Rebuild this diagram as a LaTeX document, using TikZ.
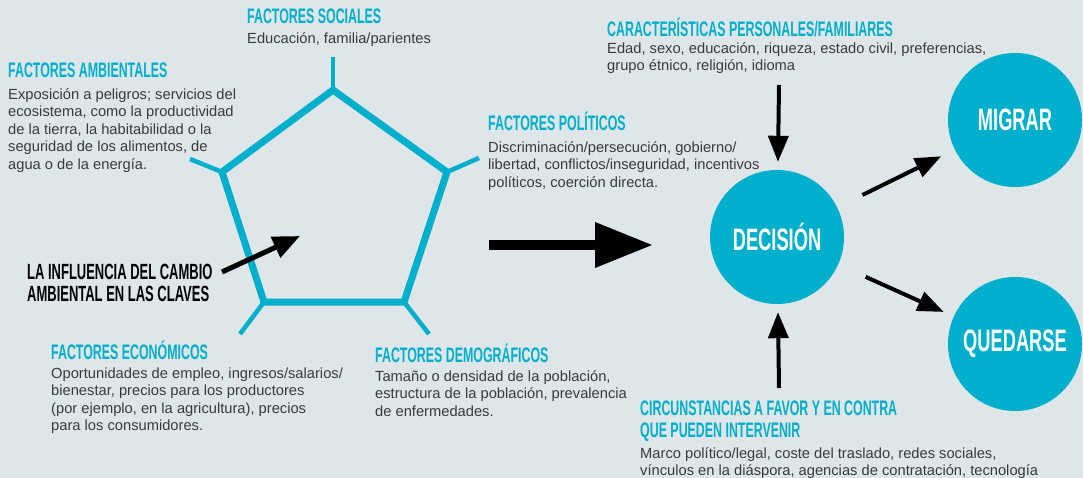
\documentclass[tikz,border=0pt]{standalone}
\usepackage{fontspec}
\setmainfont{Liberation Sans}
\newfontfamily\headfont{Liberation Sans}[UprightFont=* Bold,FakeStretch=0.59]
\usetikzlibrary{positioning,arrows.meta}
\definecolor{cian}{HTML}{00AFCB}
\definecolor{fondo}{HTML}{DFE6E9}
\definecolor{gris}{HTML}{3A3A3A}

\begin{document}
\begin{tikzpicture}[x=1pt,y=-1pt,node distance=20pt,
  titulo/.style={font=\headfont\fontsize{21}{21.5}\selectfont, text=cian, align=left, inner sep=0pt, anchor=base west},
  texto/.style={font=\fontsize{14.7}{17.5}\selectfont, text=gris, align=left, inner sep=0pt},
  circulo/.style={circle, fill=cian, minimum size=134pt, inner sep=0pt, text=white, font=\headfont\fontsize{31}{31}\selectfont},
  lado/.style={draw=cian, line width=7pt, line join=miter},
  rama/.style={draw=cian, line width=4.5pt},
  flecha/.style={draw=black, line width=4pt, -{Triangle[length=26pt,width=20pt]}},
]
\fill[fondo] (0,0) rectangle (1083,478);
\useasboundingbox (0,0) rectangle (1083,478);

% pentagono
\coordinate (p1) at (333,90);
\coordinate (p2) at (447,172);
\coordinate (p3) at (404,302);
\coordinate (p4) at (264,302);
\coordinate (p5) at (222,172);
\coordinate (r1) at (333,57);
\coordinate (r2) at (479,158);
\coordinate (r3) at (429,334);
\coordinate (r4) at (240,334);
\coordinate (r5) at (190,159);
\draw[rama] (p1) -- (r1);
\draw[rama] (p2) -- (r2);
\draw[rama] (p3) -- (r3);
\draw[rama] (p4) -- (r4);
\draw[rama] (p5) -- (r5);
\draw[lado] (p1) -- (p2) -- (p3) -- (p4) -- (p5) -- cycle;

% factores
\node[titulo] (soc) at (247,24) {FACTORES SOCIALES};
\node[texto, below=8.3pt of soc.base west, anchor=north west] (soc1) {Educación, familia/parientes};

\node[titulo] (amb) at (8,78) {FACTORES AMBIENTALES};
\node[texto, below=10.3pt of amb.base west, anchor=north west] (amb1) {Exposición a peligros; servicios del\\ ecosistema, como la productividad\\ de la tierra, la habitabilidad o la\\ seguridad de los alimentos, de\\ agua o de la energía.};

\node[titulo] (pol) at (488,131) {FACTORES POLÍTICOS};
\node[texto, below=10.3pt of pol.base west, anchor=north west] (pol1) {Discriminación/persecución, gobierno/\\ libertad, conflictos/inseguridad, incentivos\\ políticos, coerción directa.};

\node[titulo] (eco) at (51,359) {FACTORES ECONÓMICOS};
\node[texto, below=8.3pt of eco.base west, anchor=north west] (eco1) {Oportunidades de empleo, ingresos/salarios/\\ bienestar, precios para los productores\\ (por ejemplo, en la agricultura), precios\\ para los consumidores.};

\node[titulo] (dem) at (375,362) {FACTORES DEMOGRÁFICOS};
\node[texto, below=8.3pt of dem.base west, anchor=north west] (dem1) {Tamaño o densidad de la población,\\ estructura de la población, prevalencia\\ de enfermedades.};

\node[titulo] (car) at (607,37) {CARACTERÍSTICAS PERSONALES/FAMILIARES};
\node[texto, below=5.3pt of car.base west, anchor=north west] (car1) {Edad, sexo, educación, riqueza, estado civil, preferencias,\\ grupo étnico, religión, idioma};

\node[titulo] (cir) at (640,437) {CIRCUNSTANCIAS A FAVOR Y EN CONTRA\\ QUE PUEDEN INTERVENIR};
\node[texto, below=10.3pt of cir.base west, anchor=north west] (cir1) {Marco político/legal, coste del traslado, redes sociales,\\ vínculos en la diáspora, agencias de contratación, tecnología};

\node[titulo, text=black, font=\headfont\fontsize{22}{22}\selectfont] (infl) at (27,301) {LA INFLUENCIA DEL CAMBIO\\ AMBIENTAL EN LAS CLAVES};

% decision
\node[circulo] (dec) at (777,237) {DECISIÓN};
\node[circulo] (mig) at (1015,120) {MIGRAR};
\node[circulo] (que) at (1015,344) {QUEDARSE};

% flechas
\coordinate (inT) at (222,272);
\coordinate (inP) at (300,236);
\coordinate (bigT) at (489,245);
\coordinate (bigP) at (653,245);
\coordinate (carT) at (779,85);
\coordinate (cirT) at (779,388);
\draw[flecha, line width=5pt, -{Triangle[length=27pt,width=22pt]}] (inT) -- (inP);
\draw[line width=10pt, -{Triangle[length=58pt,width=43pt]}] (bigT) -- (bigP);
\draw[flecha, shorten >=8pt] (carT) -- (dec);
\draw[flecha, shorten >=8pt] (cirT) -- (dec);
\draw[flecha, shorten <=28pt, shorten >=15pt] (dec) -- (mig);
\draw[flecha, shorten <=30pt, shorten >=11pt] (dec) -- (que);
\end{tikzpicture}
\end{document}
